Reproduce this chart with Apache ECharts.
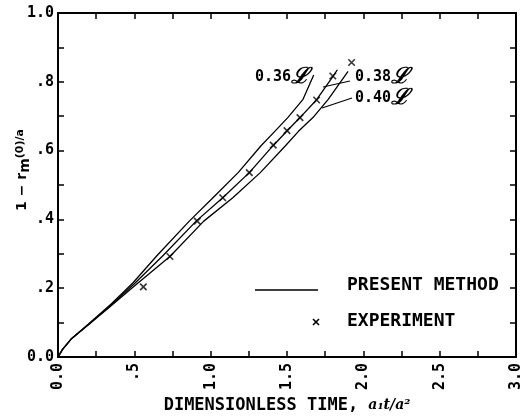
<!DOCTYPE html>
<html>
<head>
<meta charset="utf-8">
<script src="https://cdn.jsdelivr.net/npm/echarts@6/dist/echarts.min.js"></script>
<style>
  html, body { margin: 0; padding: 0; background: #fff; }
  #chart { width: 528px; height: 419px; }
</style>
</head>
<body>
<div id="chart"></div>
<script>
// present method curves (three values of L)
const curve36X = [0, 0.03, 0.09, 0.2, 0.35, 0.49, 0.655, 0.86, 1.015, 1.18, 1.33, 1.42, 1.505, 1.605, 1.675]
const curve36Y = [0, 0.022, 0.054, 0.096, 0.155, 0.215, 0.298, 0.395, 0.463, 0.536, 0.614, 0.656, 0.696, 0.749, 0.82]
const curve38X = [0, 0.03, 0.09, 0.2, 0.35, 0.5, 0.69, 0.905, 1.079, 1.253, 1.41, 1.5, 1.585, 1.694, 1.8, 1.83]
const curve38Y = [0, 0.022, 0.054, 0.095, 0.152, 0.213, 0.296, 0.395, 0.463, 0.536, 0.615, 0.657, 0.696, 0.748, 0.815, 0.835]
const curve40X = [0, 0.03, 0.09, 0.2, 0.35, 0.51, 0.733, 0.955, 1.145, 1.325, 1.49, 1.575, 1.67, 1.77, 1.9]
const curve40Y = [0, 0.022, 0.054, 0.094, 0.15, 0.21, 0.292, 0.395, 0.463, 0.536, 0.614, 0.656, 0.696, 0.749, 0.83]

// experiment
const expX = [0.559, 0.733, 0.912, 1.079, 1.253, 1.41, 1.5, 1.585, 1.694, 1.8, 1.923]
const expY = [0.204, 0.292, 0.395, 0.463, 0.536, 0.616, 0.658, 0.696, 0.747, 0.817, 0.856]

const xTickLabels = ['0.0', '.5', '1.0', '1.5', '2.0', '2.5', '3.0']
const yTickLabels = ['0.0', '.2', '.4', '.6', '.8', '1.0']

const mono = 'DejaVu Sans Mono'
const zip = (xs, ys) => xs.map((x, i) => [x, ys[i]])

const chart = echarts.init(document.getElementById('chart'))

const frameAxis = {
  axisLine: { show: true, onZero: false, lineStyle: { color: '#000', width: 2 } },
  axisTick: { show: true, inside: true, length: 6, lineStyle: { color: '#000', width: 1.5 } },
  minorTick: { show: true, splitNumber: 2, length: 6, lineStyle: { color: '#000', width: 1.5 } },
  splitLine: { show: false },
  minorSplitLine: { show: false }
}

function lineSeries(xs, ys) {
  return {
    type: 'line',
    data: zip(xs, ys),
    showSymbol: false,
    lineStyle: { color: '#000', width: 1.3 },
    silent: true,
    z: 2
  }
}

const labelRich = {
  a: { fontFamily: mono, fontWeight: 'bold', fontSize: 15, fill: '#000' },
  b: { fontFamily: 'DejaVu Serif', fontStyle: 'italic', fontWeight: 'bold', fontSize: 22, fill: '#000' }
}

chart.setOption({
  animation: false,
  backgroundColor: '#fff',
  grid: { left: 58, right: 12, top: 13, bottom: 62, containLabel: false, outerBoundsMode: 'none' },
  xAxis: [{
    type: 'value', min: 0, max: 3, interval: 0.5, position: 'bottom',
    ...frameAxis,
    axisLabel: {
      rotate: 90, margin: 6, color: '#000',
      fontFamily: mono, fontWeight: 'bold', fontSize: 15,
      formatter: v => xTickLabels[Math.round(v / 0.5)]
    },
    name: '{t|DIMENSIONLESS TIME, }{v|a₁t/a²}',
    nameLocation: 'middle',
    nameGap: 40,
    nameMoveOverlap: false,
    nameTextStyle: {
      rich: {
        t: { fontFamily: mono, fontWeight: 'bold', fontSize: 17, color: '#000' },
        v: { fontFamily: 'DejaVu Serif', fontStyle: 'italic', fontWeight: 'bold', fontSize: 14, color: '#000' }
      }
    }
  }, {
    type: 'value', min: 0, max: 3, interval: 0.5, position: 'top',
    ...frameAxis,
    axisLabel: { show: false }
  }],
  yAxis: [{
    type: 'value', min: 0, max: 1, interval: 0.2, position: 'left',
    ...frameAxis,
    axisLabel: {
      margin: 4, color: '#000',
      fontFamily: mono, fontWeight: 'bold', fontSize: 15,
      formatter: v => yTickLabels[Math.round(v / 0.2)]
    },
    name: '{n|1 − r}{m|m}{s|(0)/a}',
    nameLocation: 'middle',
    nameGap: 26,
    nameRotate: 90,
    nameMoveOverlap: false,
    nameTextStyle: {
      padding: [0, 0, 0, 30],
      rich: {
        n: { fontFamily: 'DejaVu Sans', fontWeight: 'bold', fontSize: 14, color: '#000' },
        m: { fontFamily: 'DejaVu Sans', fontWeight: 'bold', fontSize: 14, color: '#000', padding: [6, 0, 0, 0] },
        s: { fontFamily: 'DejaVu Sans', fontWeight: 'bold', fontSize: 11, color: '#000', padding: [0, 0, 4, 0] }
      }
    }
  }, {
    type: 'value', min: 0, max: 1, interval: 0.2, position: 'right',
    ...frameAxis,
    axisLabel: { show: false }
  }],
  series: [
    lineSeries(curve36X, curve36Y),
    lineSeries(curve38X, curve38Y),
    lineSeries(curve40X, curve40Y),
    {
      type: 'scatter',
      data: zip(expX, expY),
      symbol: 'path://M0,0L10,10M10,0L0,10',
      symbolSize: 6.5,
      itemStyle: { color: 'none', borderColor: '#000', borderWidth: 1.6 },
      silent: true,
      z: 3
    }
  ],
  graphic: [
    // curve labels and leaders
    { type: 'text', left: 255, top: 66, style: { text: '{a|0.36}{b|ℒ}', rich: labelRich } },
    { type: 'text', left: 355, top: 66, style: { text: '{a|0.38}{b|ℒ}', rich: labelRich } },
    { type: 'text', left: 355, top: 87, style: { text: '{a|0.40}{b|ℒ}', rich: labelRich } },
    { type: 'polyline', shape: { points: [[323, 87], [350, 81]] }, style: { stroke: '#000', lineWidth: 1.2, fill: null } },
    { type: 'polyline', shape: { points: [[322, 108], [352, 98]] }, style: { stroke: '#000', lineWidth: 1.2, fill: null } },
    // legend
    { type: 'line', shape: { x1: 255, y1: 290, x2: 318, y2: 290 }, style: { stroke: '#000', lineWidth: 1.3 } },
    { type: 'text', left: 347, top: 276, style: { text: 'PRESENT METHOD', fontFamily: mono, fontWeight: 'bold', fontSize: 18, fill: '#000' } },
    { type: 'polyline', shape: { points: [[313, 319], [319, 325]] }, style: { stroke: '#000', lineWidth: 1.6, fill: null } },
    { type: 'polyline', shape: { points: [[319, 319], [313, 325]] }, style: { stroke: '#000', lineWidth: 1.6, fill: null } },
    { type: 'text', left: 347, top: 312, style: { text: 'EXPERIMENT', fontFamily: mono, fontWeight: 'bold', fontSize: 18, fill: '#000' } }
  ]
})
</script>
</body>
</html>
